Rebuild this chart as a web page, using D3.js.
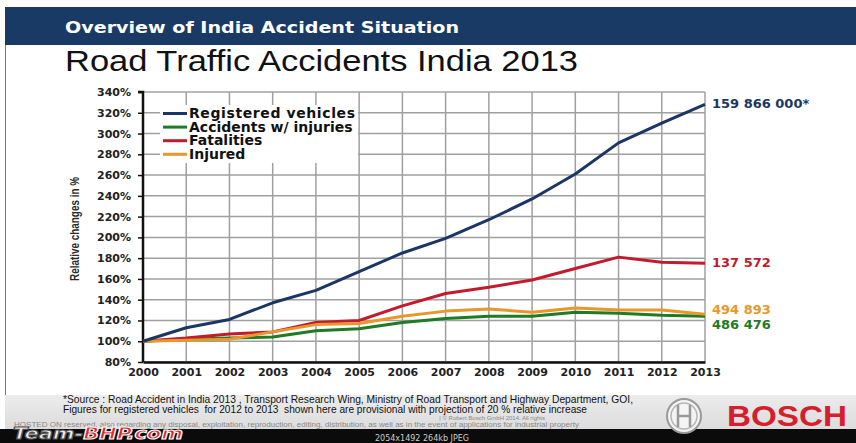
<!DOCTYPE html>
<meta charset="utf-8">
<style>
body{margin:0;background:#fff;}
svg{display:block}
</style>
<svg id="chart" width="856" height="443"></svg>
<script src="https://cdnjs.cloudflare.com/ajax/libs/d3/7.8.5/d3.min.js"></script>
<script>
// chart values (relative change, 2000 = 100%)
const years = [2000, 2001, 2002, 2003, 2004, 2005, 2006, 2007, 2008, 2009, 2010, 2011, 2012, 2013]
const registered = [100, 113, 121, 137, 149, 167, 185, 199, 217, 237, 261, 291, 310, 328]
const accidents = [100, 102, 103, 104, 110, 112, 118, 122, 124, 124, 128, 127, 125, 124]
const fatalities = [100, 103, 107, 109, 118, 120, 134, 146, 152, 159, 170, 181, 176, 175]
const injured = [100, 101, 102, 109, 116, 117, 124, 129, 131, 128, 132, 130, 130, 126]
const yTicks = [80, 100, 120, 140, 160, 180, 200, 220, 240, 260, 280, 300, 320, 340]

const seriesNames = ['Registered vehicles', 'Accidents w/ injuries', 'Fatalities', 'Injured']
const seriesEndLabels = ['159 866 000*', '486 476', '137 572', '494 893']

const colors = {
  'Registered vehicles': '#1b3664',
  'Accidents w/ injuries': '#1f7b25',
  'Fatalities': '#c31b2c',
  'Injured': '#e8972a'
}

const series = [
  {name: 'Registered vehicles', values: registered, label: seriesEndLabels[0], dy: 4},
  {name: 'Accidents w/ injuries', values: accidents, label: seriesEndLabels[1], dy: 13},
  {name: 'Fatalities', values: fatalities, label: seriesEndLabels[2], dy: 4},
  {name: 'Injured', values: injured, label: seriesEndLabels[3], dy: 0}
]

const svg = d3.select('#chart')

// ---- slide frame ----
svg.append('rect').attr('x', 5).attr('y', 7).attr('width', 851).attr('height', 38).attr('fill', '#1a3a66')
svg.append('line').attr('x1', 5.5).attr('x2', 5.5).attr('y1', 45).attr('y2', 429).attr('stroke', '#777')
svg.append('text').attr('x', 65).attr('y', 33)
  .style('font', 'bold 16px "DejaVu Sans", Verdana, sans-serif').attr('fill', '#fff')
  .attr('textLength', 394).attr('lengthAdjust', 'spacingAndGlyphs')
  .text('Overview of India Accident Situation')
svg.append('text').attr('x', 65).attr('y', 71)
  .style('font', '30px "Liberation Sans", Arial, sans-serif').attr('fill', '#111')
  .attr('textLength', 513).attr('lengthAdjust', 'spacingAndGlyphs')
  .text('Road Traffic Accidents India 2013')

// ---- scales ----
const x = d3.scaleLinear().domain([2000, 2013]).range([143, 705])
const y = d3.scaleLinear().domain([80, 340]).range([362, 92])

// grid
const grid = svg.append('g').attr('stroke', '#a0a0a0').attr('stroke-width', 1.5)
grid.selectAll('line.h').data(yTicks).join('line').attr('class', 'h')
  .attr('x1', x(2000)).attr('x2', x(2013)).attr('y1', d => y(d)).attr('y2', d => y(d))
grid.selectAll('line.v').data(years).join('line').attr('class', 'v')
  .attr('x1', d => x(d)).attr('x2', d => x(d)).attr('y1', y(340)).attr('y2', y(80))

// axes
const tickFont = 'bold 11px "DejaVu Sans", Verdana, sans-serif'
const yAxis = svg.append('g').attr('transform', `translate(${x(2000)},0)`)
  .call(d3.axisLeft(y).tickValues(yTicks).tickSize(5).tickPadding(7).tickFormat(d => d + '%'))
const xAxis = svg.append('g').attr('transform', `translate(0,${y(80)})`)
  .call(d3.axisBottom(x).tickValues(years).tickSize(0).tickPadding(6).tickFormat(d3.format('d')))
;[xAxis, yAxis].forEach(a => {
  a.select('.domain').attr('stroke', '#111').attr('stroke-width', 2.5)
  a.selectAll('.tick line').attr('stroke', '#111').attr('stroke-width', 1.5)
  a.selectAll('.tick text').style('font', tickFont).attr('fill', '#222')
})
yAxis.select('.domain').attr('d', `M-5,${y(340)}H0V${y(80)}`)

svg.append('text')
  .attr('transform', `translate(79,${(y(340) + y(80)) / 2 + 2}) rotate(-90)`)
  .attr('text-anchor', 'middle')
  .style('font', 'bold 12px "Liberation Sans", Arial, sans-serif')
  .attr('textLength', 104).attr('lengthAdjust', 'spacingAndGlyphs')
  .attr('fill', '#2a2a2a')
  .text('Relative changes in %')

// lines
const line = d3.line().x((d, i) => x(years[i])).y(d => y(d))
const drawOrder = ['Accidents w/ injuries', 'Fatalities', 'Injured', 'Registered vehicles']
svg.append('g').selectAll('path')
  .data(drawOrder.map(n => series.find(s => s.name === n)))
  .join('path')
  .attr('d', d => line(d.values))
  .attr('fill', 'none')
  .attr('stroke', d => colors[d.name])
  .attr('stroke-width', 3)
  .attr('stroke-linejoin', 'round')

// end labels
svg.append('g').selectAll('text').data(series).join('text')
  .attr('x', x(2013) + 7)
  .attr('y', d => y(d.values[d.values.length - 1]) + d.dy)
  .style('font', 'bold 13px "DejaVu Sans", Verdana, sans-serif')
  .attr('fill', d => colors[d.name])
  .text(d => d.label)

// legend (one white box behind all rows, rows sit tight like the slide)
const legend = svg.append('g').attr('transform', 'translate(163,118)')
legend.append('rect').attr('x', -3).attr('y', -13).attr('width', 198).attr('height', 58).attr('fill', '#fff')
const rows = legend.selectAll('g').data(seriesNames).join('g')
  .attr('transform', (d, i) => `translate(0,${i * 13.6})`)
rows.append('line').attr('x1', 0).attr('x2', 24).attr('y1', -4.5).attr('y2', -4.5)
  .attr('stroke', d => colors[d]).attr('stroke-width', 3)
rows.append('text').attr('x', 26)
  .style('font', 'bold 14px "DejaVu Sans", Verdana, sans-serif').attr('fill', '#111')
  .attr('textLength', (d, i) => [166, 0, 0, 0][i] || null)
  .text(d => d)

// ---- footer ----
const grad = svg.append('defs').append('linearGradient').attr('id', 'foot').attr('x1', 0).attr('x2', 0).attr('y1', 0).attr('y2', 1)
grad.append('stop').attr('offset', 0).attr('stop-color', '#ececec')
grad.append('stop').attr('offset', 1).attr('stop-color', '#dcdcdc')
svg.append('rect').attr('x', 5).attr('y', 395).attr('width', 851).attr('height', 34).attr('fill', 'url(#foot)')
svg.append('rect').attr('x', 0).attr('y', 429).attr('width', 856).attr('height', 14).attr('fill', '#0b0b0b')

const footFont = '10.5px "Liberation Sans", Arial, sans-serif'
svg.append('text').attr('x', 63).attr('y', 402.5).style('font', footFont).attr('fill', '#111')
  .attr('textLength', 570).attr('lengthAdjust', 'spacingAndGlyphs')
  .text('*Source : Road Accident in India 2013 , Transport Research Wing, Ministry of Road Transport and Highway Department, GOI,')
svg.append('text').attr('x', 63).attr('y', 412.5).style('font', footFont).attr('fill', '#111')
  .attr('xml:space', 'preserve')
  .attr('textLength', 524).attr('lengthAdjust', 'spacingAndGlyphs')
  .text('Figures for registered vehicles  for 2012 to 2013  shown here are provisional with projection of 20 % relative increase')
svg.append('text').attr('x', 545).attr('y', 419.5).attr('text-anchor', 'end')
  .style('font', '6px "Liberation Sans", Arial, sans-serif').attr('fill', '#888')
  .text('| © Robert Bosch GmbH 2014. All rights')
svg.append('text').attr('x', 14).attr('y', 426.5)
  .style('font', '7px "Liberation Sans", Arial, sans-serif').attr('fill', '#888')
  .attr('textLength', 565).attr('lengthAdjust', 'spacingAndGlyphs')
  .text('HOSTED ON reserved, also regarding any disposal, exploitation, reproduction, editing, distribution, as well as in the event of applications for industrial property')

// Bosch mark
const bosch = svg.append('g').attr('transform', 'translate(684,416)')
bosch.append('circle').attr('r', 17).attr('fill', '#f4f4f4').attr('stroke', '#9a9a9a').attr('stroke-width', 2)
bosch.append('circle').attr('r', 13).attr('fill', 'none').attr('stroke', '#b5b5b5').attr('stroke-width', 1.5)
bosch.append('path').attr('d', 'M-6,-11V11M6,-11V11M-6,0H6').attr('stroke', '#999').attr('stroke-width', 2.5).attr('fill', 'none')
svg.append('text').attr('x', 727).attr('y', 426)
  .style('font', 'bold 30px "Liberation Sans", Arial, sans-serif').attr('fill', '#d51f2e')
  .attr('textLength', 120).attr('lengthAdjust', 'spacingAndGlyphs')
  .text('BOSCH')

// forum watermark
const wm = svg.append('text').attr('x', 13).attr('y', 439)
  .style('font', 'italic bold 15px "DejaVu Sans", Verdana, sans-serif')
  .attr('textLength', 170).attr('lengthAdjust', 'spacingAndGlyphs')
  .attr('stroke-width', 1)
wm.append('tspan').attr('fill', '#eee').attr('stroke', '#555').text('Team-')
wm.append('tspan').attr('fill', '#e3242b').attr('stroke', '#fff').text('BHP.com')
svg.append('text').attr('x', 375).attr('y', 441)
  .style('font', '8px "DejaVu Sans", sans-serif').attr('fill', '#ccc')
  .text('2054x1492  264kb  JPEG')
</script>
